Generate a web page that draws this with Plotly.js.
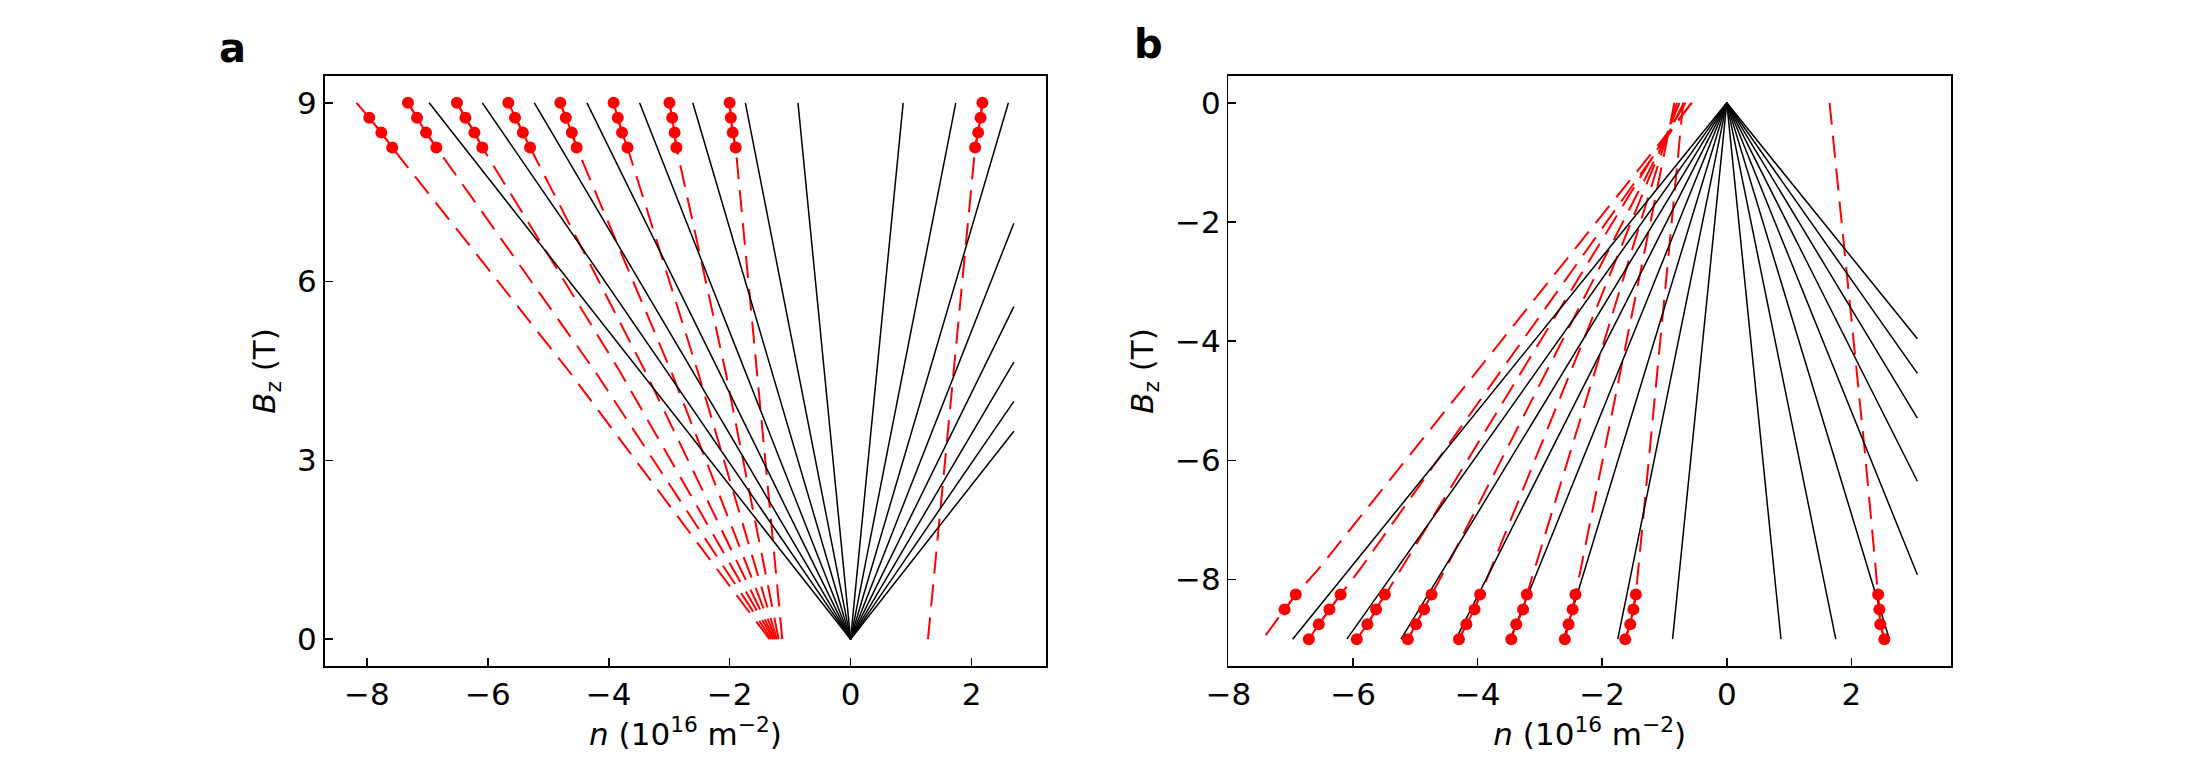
<!DOCTYPE html>
<html>
<head>
<meta charset="utf-8">
<script src="https://cdn.plot.ly/plotly-3.0.1.min.js"></script>
<style>
  html, body { margin: 0; padding: 0; background: #ffffff; }
  #grafico { width: 2205px; height: 784px; }
</style>
</head>
<body>
<div id="grafico"></div>
<script>
// painel a: retas pretas saem da origem (0,0) ate estes pontos
var aPretoX = [-0.87, -1.74, -2.61, -3.49, -4.36, -5.23, -6.09, -6.97, 0.87, 1.74, 2.61, 2.70, 2.70, 2.70, 2.70, 2.70];
var aPretoY = [9, 9, 9, 9, 9, 9, 9, 9, 9, 9, 9, 6.98, 5.58, 4.65, 3.99, 3.49];

// painel a: curvas tracejadas vermelhas (B em T, n em 1e16 m^-2)
var aVermY = [0, 4.5, 8.25, 8.5, 8.75, 9];
var aVermX = [
    [-1.34, -4.66, -7.58, -7.76, -7.96, -8.17],
    [-1.31, -4.23, -6.85, -7.02, -7.17, -7.32],
    [-1.28, -3.82, -6.09, -6.22, -6.37, -6.51],
    [-1.26, -3.40, -5.30, -5.42, -5.55, -5.66],
    [-1.24, -2.97, -4.53, -4.61, -4.71, -4.80],
    [-1.22, -2.53, -3.69, -3.78, -3.85, -3.92],
    [-1.19, -2.07, -2.88, -2.91, -2.95, -2.995],
    [-1.13, -1.55, -1.90, -1.95, -1.98, -2.00],
    [1.28, 1.70, 2.06, 2.11, 2.15, 2.18]
];
// quantos pontos (a partir de B = 8.25) levam bolinha em cada curva
var aBolinhas = [3, 4, 4, 4, 4, 4, 4, 4, 4];

// painel b
var bPretoX = [-6.97, -6.10, -5.23, -4.35, -3.48, -2.62, -1.75, -0.87, 0.87, 1.75, 2.61, 3.06, 3.06, 3.06, 3.06, 3.06];
var bPretoY = [-9, -9, -9, -9, -9, -9, -9, -9, -9, -9, -9, -7.92, -6.35, -5.29, -4.54, -3.96];

var bVermY = [0, -7.83, -8.25, -8.5, -8.75, -9];
var bVermX = [
    [-0.56, -6.56, -6.92, -7.10, -7.27, -7.45],
    [-0.57, -5.89, -6.20, -6.38, -6.55, -6.71],
    [-0.66, -5.24, -5.49, -5.63, -5.77, -5.94],
    [-0.69, -4.52, -4.74, -4.86, -4.99, -5.12],
    [-0.76, -3.80, -3.96, -4.05, -4.18, -4.30],
    [-0.80, -3.09, -3.21, -3.27, -3.38, -3.46],
    [-0.84, -2.35, -2.43, -2.475, -2.54, -2.60],
    [-0.70, -1.42, -1.46, -1.50, -1.55, -1.63]
];
var bBolinhas = [2, 4, 4, 4, 4, 4, 4, 4];
var bDireitaY = [0, -2.53, -4.32, -5.89, -7.80, -8.25, -8.5, -8.75, -9];
var bDireitaX = [1.65, 1.90, 2.07, 2.22, 2.39, 2.43, 2.45, 2.465, 2.53];

var xTicks = [-8, -6, -4, -2, 0, 2];
var xTickText = ['\u22128', '\u22126', '\u22124', '\u22122', '0', '2'];
var aYTicks = [0, 3, 6, 9];
var bYTicks = [0, -2, -4, -6, -8];
var bYTickText = ['0', '\u22122', '\u22124', '\u22126', '\u22128'];

var VERMELHO = '#ff0000';
var traces = [];

function retasPretas(xs, ys, eixoX, eixoY) {
    for (var i = 0; i < xs.length; i++) {
        traces.push({
            x: [0, xs[i]], y: [0, ys[i]], xaxis: eixoX, yaxis: eixoY,
            type: 'scatter', mode: 'lines', line: { color: '#000000', width: 1.5 },
            hoverinfo: 'skip', showlegend: false
        });
    }
}

function tracejada(xs, ys, eixoX, eixoY) {
    traces.push({
        x: xs, y: ys, xaxis: eixoX, yaxis: eixoY,
        type: 'scatter', mode: 'lines',
        line: { color: VERMELHO, width: 2, dash: '22px,11px' },
        hoverinfo: 'skip', showlegend: false
    });
}

// as bolinhas ficam nos ultimos pontos de cada curva, ligadas por traco continuo
function bolinhas(xs, ys, n, eixoX, eixoY) {
    traces.push({
        x: xs.slice(xs.length - 4, xs.length - 4 + n),
        y: ys.slice(ys.length - 4, ys.length - 4 + n),
        xaxis: eixoX, yaxis: eixoY,
        type: 'scatter', mode: 'lines+markers',
        line: { color: VERMELHO, width: 2 },
        marker: { color: VERMELHO, size: 12 },
        hoverinfo: 'skip', showlegend: false
    });
}

for (var i = 0; i < aVermX.length; i++) {
    tracejada(aVermX[i], aVermY, 'x', 'y');
}
retasPretas(aPretoX, aPretoY, 'x', 'y');
for (var i = 0; i < aVermX.length; i++) {
    bolinhas(aVermX[i], aVermY, aBolinhas[i], 'x', 'y');
}

for (var i = 0; i < bVermX.length; i++) {
    tracejada(bVermX[i], bVermY, 'x2', 'y2');
}
tracejada(bDireitaX, bDireitaY, 'x2', 'y2');
retasPretas(bPretoX, bPretoY, 'x2', 'y2');
for (var i = 0; i < bVermX.length; i++) {
    bolinhas(bVermX[i], bVermY, bBolinhas[i], 'x2', 'y2');
}
bolinhas(bDireitaX, bDireitaY, 4, 'x2', 'y2');

var FONTE = 'DejaVu Sans, sans-serif';
var TAM = 31;

function eixo(extra) {
    var base = {
        showline: true, mirror: true, linecolor: '#000000', linewidth: 1.6,
        ticks: 'inside', ticklen: 8, tickwidth: 1.6, tickcolor: '#000000',
        showgrid: false, zeroline: false, fixedrange: true,
        tickfont: { family: FONTE, size: TAM, color: '#000000' }
    };
    for (var k in extra) { base[k] = extra[k]; }
    return base;
}

var tituloX = { text: '<i>n</i> (10<sup>16</sup> m<sup>\u22122</sup>)', font: { family: FONTE, size: TAM, color: '#000000' }, standoff: 10 };
var tituloY = { text: '<i>B</i><sub>z</sub> (T)', font: { family: FONTE, size: TAM, color: '#000000' }, standoff: 12 };

var layout = {
    width: 2205, height: 784,
    paper_bgcolor: '#ffffff', plot_bgcolor: '#ffffff',
    margin: { t: 0, r: 0, b: 0, l: 0 },
    showlegend: false,
    xaxis: eixo({ domain: [0.14717, 0.47460], range: [-8.7, 3.24], tickvals: xTicks, ticktext: xTickText, anchor: 'y', title: tituloX }),
    yaxis: eixo({ domain: [0.15051, 0.90306], range: [-0.45, 9.45], tickvals: aYTicks, anchor: 'x', title: tituloY }),
    xaxis2: eixo({ domain: [0.55714, 0.88481], range: [-8.0, 3.6], tickvals: xTicks, ticktext: xTickText, anchor: 'y2', title: tituloX }),
    yaxis2: eixo({ domain: [0.15051, 0.90306], range: [-9.45, 0.45], tickvals: bYTicks, ticktext: bYTickText, anchor: 'x2', title: tituloY }),
    annotations: [
        { text: '<b>a</b>', xref: 'paper', yref: 'paper', x: 233 / 2205, y: 1 - 48 / 784, xanchor: 'center', yanchor: 'middle', showarrow: false, font: { family: FONTE, size: 40, color: '#000000' } },
        { text: '<b>b</b>', xref: 'paper', yref: 'paper', x: 1148 / 2205, y: 1 - 44 / 784, xanchor: 'center', yanchor: 'middle', showarrow: false, font: { family: FONTE, size: 40, color: '#000000' } }
    ]
};

Plotly.newPlot('grafico', traces, layout, { displayModeBar: false, staticPlot: true });
</script>
</body>
</html>
